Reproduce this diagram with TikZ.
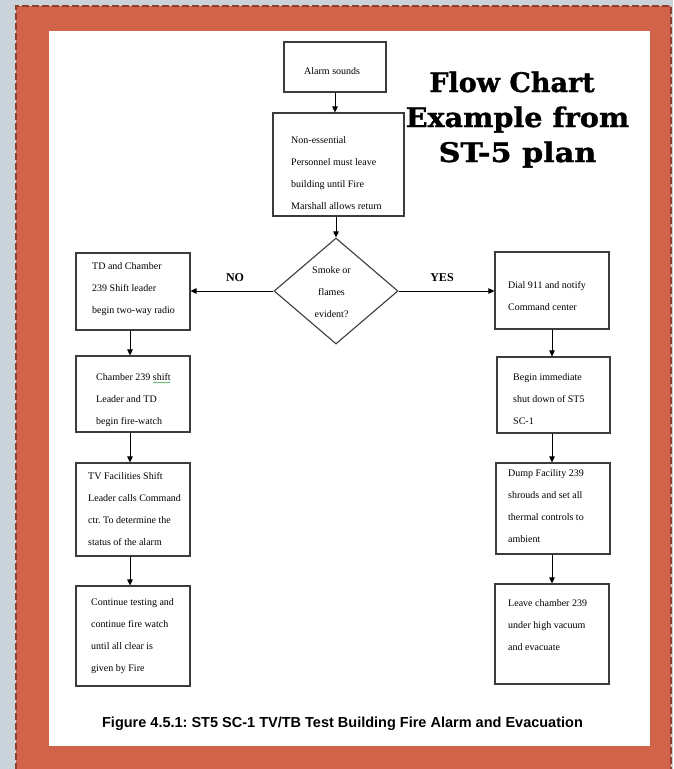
\documentclass[tikz,border=0pt]{standalone}
\usepackage{fontspec}
\setmainfont{Liberation Serif}
\newfontfamily\capfont{Liberation Sans}
\newfontfamily\headfont{DejaVu Serif}
\usetikzlibrary{arrows.meta,shapes.geometric,decorations.pathmorphing}

\definecolor{bggray}{HTML}{C9D3D9}
\definecolor{framefill}{HTML}{D1634B}
\definecolor{framedash}{HTML}{8E3D2E}
\definecolor{boxline}{HTML}{3C3C3C}
\definecolor{spellgreen}{HTML}{3FA64A}

% one text line per node, 22pt apart, starting at (x, y0)
\newcommand\boxlines[4]{%
  \foreach \ln [count=\k] in {#4}
    \node[txt] (#1-\k) at (#2, {#3+22*(\k-1)}) {\ln};}

% heavier heading: fill and stroke the glyph outlines
\newcommand\heavytext[1]{\special{pdf:literal direct 2 Tr 0.3 w}#1\special{pdf:literal direct 0 Tr}}

\begin{document}
\frenchspacing
\begin{tikzpicture}[x=1pt,y=-1pt,
  box/.style={draw=boxline, line width=1.1pt, inner sep=0pt, fill=white},
  flow/.style={draw=black, line width=0.9pt, -{Triangle[length=6pt,width=5.5pt]}},
  txt/.style={font=\fontsize{10}{12}\selectfont, inner sep=0pt, anchor=base west},
  ctxt/.style={txt, anchor=base},
  branch/.style={font=\bfseries\fontsize{12}{14}\selectfont, inner sep=0pt, anchor=base},
  headline/.style={font=\headfont\bfseries\fontsize{27}{30}\selectfont, inner sep=0pt, anchor=base},
  caption/.style={font=\capfont\bfseries\fontsize{14.5}{16}\selectfont, inner sep=0pt, anchor=base}
]
\useasboundingbox (0,0) rectangle (673,769);

% page background, coloured frame and white sheet
\fill[bggray] (0,0) rectangle (673,769);
\fill[framefill] (16,6) rectangle (671,780);
\draw[framedash, line width=2pt, dash pattern=on 7pt off 3pt] (16,780) -- (16,6) -- (671,6) -- (671,780);
\fill[white] (49,31) rectangle (650,746);

% flow chart boxes
\node[box, minimum width=102pt, minimum height=50pt] (alarm) at (335,67) {};
\node[box, minimum width=131pt, minimum height=103pt] (ness) at (338.5,164.5) {};
\node[box, diamond, minimum width=124pt, minimum height=106pt] (dia) at (336,291) {};

\node[box, minimum width=114pt, minimum height=77pt]  (L1) at (133,291.5) {};
\node[box, minimum width=114pt, minimum height=76pt]  (L2) at (133,394) {};
\node[box, minimum width=114pt, minimum height=93pt]  (L3) at (133,509.5) {};
\node[box, minimum width=114pt, minimum height=100pt] (L4) at (133,636) {};

\node[box, minimum width=114pt, minimum height=77pt]  (R1) at (552,290.5) {};
\node[box, minimum width=113pt, minimum height=76pt]  (R2) at (553.5,395) {};
\node[box, minimum width=114pt, minimum height=91pt]  (R3) at (553,508.5) {};
\node[box, minimum width=114pt, minimum height=100pt] (R4) at (552,634) {};

% connectors
\draw[flow] (alarm.south) -- (alarm.south |- ness.north);
\draw[flow] (dia.north |- ness.south) -- (dia.north);
\draw[flow] (dia.west) -- (dia.west -| L1.east);
\draw[flow] (dia.east) -- (dia.east -| R1.west);
\draw[flow] ([xshift=-3pt]L1.south) -- ([xshift=-3pt]L1.south |- L2.north);
\draw[flow] ([xshift=-3pt]L2.south) -- ([xshift=-3pt]L2.south |- L3.north);
\draw[flow] ([xshift=-3pt]L3.south) -- ([xshift=-3pt]L3.south |- L4.north);
\draw[flow] (R1.south) -- (R1.south |- R2.north);
\draw[flow] (R2.south -| R1.south) -- (R1.south |- R3.north);
\draw[flow] (R3.south -| R1.south) -- (R1.south |- R4.north);

% branch labels
\node[branch] (no)  at (235,281) {NO};
\node[branch] (yes) at (442,281) {YES};

% box texts
\node[txt] (alarmtxt) at (304,74) {Alarm sounds};
\boxlines{nesst}{291}{143}{Non-essential,Personnel must leave,building until Fire,Marshall allows return}
\node[ctxt] (dq1) at (331.5,273) {Smoke or};
\node[ctxt] (dq2) at (331.5,295) {flames};
\node[ctxt] (dq3) at (331.5,317) {evident?};

\boxlines{l1t}{92}{269}{TD and Chamber,239 Shift leader,begin two-way radio}
\boxlines{l2t}{96}{380}{Chamber 239 shift,Leader and TD,begin fire-watch}
\draw[spellgreen, line width=0.5pt, decorate, decoration={snake, amplitude=0.6pt, segment length=2.5pt}]
  (153,382.5) -- (170,382.5);
\boxlines{l3t}{88}{479}{TV Facilities Shift,Leader calls Command,ctr. To determine the,status of the alarm}
\boxlines{l4t}{91}{605}{Continue testing and,continue fire watch,until all clear is,given by Fire}

\boxlines{r1t}{508}{288}{Dial 911 and notify,Command center}
\boxlines{r2t}{513}{380}{Begin immediate,shut down of ST5,SC-1}
\boxlines{r3t}{508}{476}{Dump Facility 239,shrouds and set all,thermal controls to,ambient}
\boxlines{r4t}{508}{606}{Leave chamber 239,under high vacuum,and evacuate}

% heading
\node[headline] (h1) at (512,92)  {\heavytext{Flow Chart}};
\node[headline] (h2) at (517.5,127) {\scalebox{1.06}[1]{\heavytext{Example from}}};
\node[headline] (h3) at (517.5,162) {\scalebox{1.12}[1]{\heavytext{ST-5 plan}}};

% figure caption
\node[caption] (cap) at (342.5,727) {Figure 4.5.1: ST5 SC-1 TV/TB Test Building Fire Alarm and Evacuation};
\end{tikzpicture}
\end{document}
